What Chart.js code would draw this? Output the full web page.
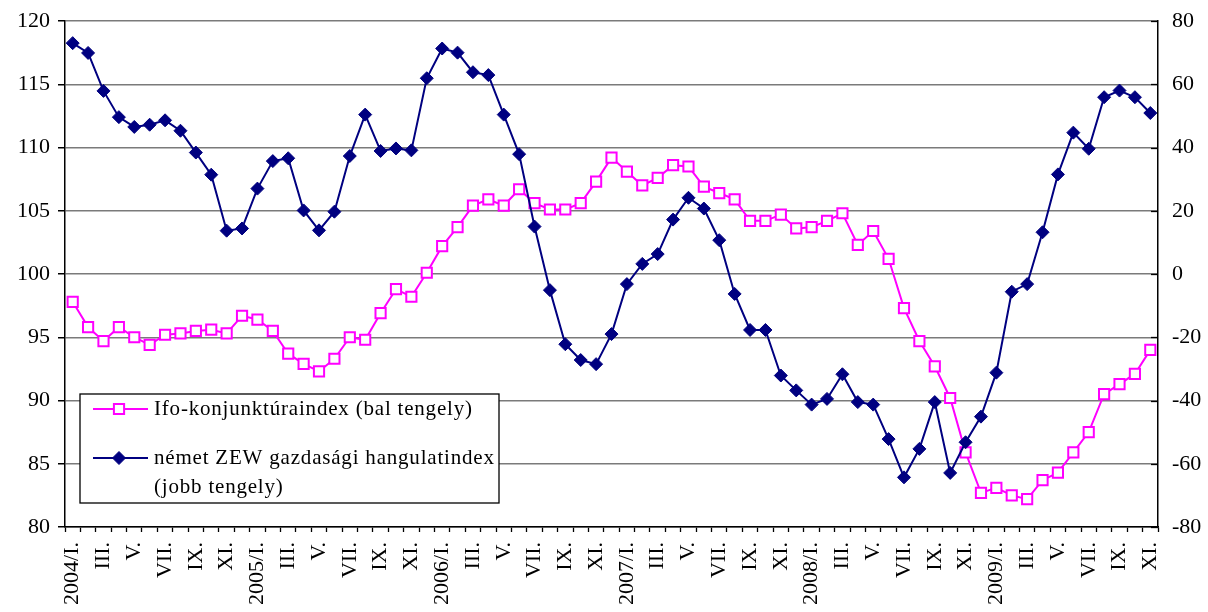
<!DOCTYPE html>
<html>
<head>
<meta charset="utf-8">
<script src="https://cdn.jsdelivr.net/npm/chart.js@4"></script>
<style>
html, body { margin: 0; padding: 0; background: #fff; }
#wrap { width: 1208px; height: 612px; }
</style>
</head>
<body>
<div id="wrap"><canvas id="lineChart"></canvas></div>
<script>
const years = ['2004', '2005', '2006', '2007', '2008', '2009'];
const months = ['I.', 'II.', 'III.', 'IV.', 'V.', 'VI.', 'VII.', 'VIII.', 'IX.', 'X.', 'XI.', 'XII.'];

// monthly categories, 2004/I. .. 2009/XI.
const labelLine = [];
years.forEach(y => months.forEach((m, i) => labelLine.push(i === 0 ? y + '/' + m : m)));
labelLine.splice(71);

// Ifo business climate (left axis)
const dataIfo = [
    97.8, 95.8, 94.7, 95.8, 95.0, 94.4, 95.2, 95.3, 95.5, 95.6, 95.3, 96.7,
    96.4, 95.5, 93.7, 92.9, 92.3, 93.3, 95.0, 94.8, 96.9, 98.8, 98.2, 100.1,
    102.2, 103.7, 105.4, 105.9, 105.4, 106.7, 105.6, 105.1, 105.1, 105.6, 107.3, 109.2,
    108.1, 107.0, 107.6, 108.6, 108.5, 106.9, 106.4, 105.9, 104.2, 104.2, 104.7, 103.6,
    103.7, 104.2, 104.8, 102.3, 103.4, 101.2, 97.3, 94.7, 92.7, 90.2, 85.9, 82.7,
    83.1, 82.5, 82.2, 83.7, 84.3, 85.9, 87.5, 90.5, 91.3, 92.1, 94.0
];

// ZEW economic sentiment (right axis)
const dataZew = [
    73.0, 69.9, 57.9, 49.6, 46.5, 47.2, 48.6, 45.3, 38.4, 31.4, 13.7, 14.4,
    27.0, 35.7, 36.6, 20.1, 13.8, 19.7, 37.3, 50.4, 38.9, 39.7, 39.1, 61.9,
    71.3, 70.0, 63.8, 62.9, 50.4, 37.9, 15.0, -5.1, -22.2, -27.2, -28.5, -19.0,
    -3.2, 3.2, 6.3, 17.2, 24.1, 20.7, 10.7, -6.3, -17.7, -17.7, -32.1, -36.8,
    -41.3, -39.5, -31.7, -40.5, -41.3, -52.2, -64.3, -55.3, -40.5, -62.9, -53.2, -45.1,
    -31.2, -5.6, -3.2, 13.2, 31.5, 44.7, 39.6, 55.9, 58.0, 55.9, 50.9
];

const legendLines = [
    ['Ifo-konjunktúraindex (bal tengely)'],
    ['német ZEW gazdasági hangulatindex', '(jobb tengely)']
];

const serif = 'Liberation Serif';

function marker(ctx, ds, x, y) {
    ctx.save();
    ctx.lineWidth = ds.pointBorderWidth;
    ctx.strokeStyle = ds.pointBorderColor;
    ctx.fillStyle = ds.pointBackgroundColor;
    ctx.beginPath();
    if (ds.pointStyle === 'rect') {
        const s = ds.pointRadius * Math.SQRT1_2;
        ctx.rect(x - s, y - s, 2 * s, 2 * s);
    } else {
        const r = ds.pointRadius;
        ctx.moveTo(x, y - r); ctx.lineTo(x + r, y); ctx.lineTo(x, y + r); ctx.lineTo(x - r, y);
        ctx.closePath();
    }
    ctx.fill();
    ctx.stroke();
    ctx.restore();
}

const boxLegend = {
    id: 'boxLegend',
    afterDraw(chart) {
        const ctx = chart.ctx;
        const left = 80, top = 394, width = 419, height = 109;
        ctx.save();
        ctx.fillStyle = '#fff';
        ctx.fillRect(left, top, width, height);
        ctx.strokeStyle = '#000';
        ctx.lineWidth = 1.3;
        ctx.strokeRect(left, top, width, height);
        ctx.font = '21px "' + serif + '"';
        ctx.fillStyle = '#000';
        ctx.textBaseline = 'middle';
        ctx.letterSpacing = '0.8px';
        const rows = [409, 458];
        chart.data.datasets.forEach((ds, i) => {
            const y = rows[i];
            ctx.strokeStyle = ds.borderColor;
            ctx.lineWidth = ds.borderWidth;
            ctx.beginPath();
            ctx.moveTo(93, y);
            ctx.lineTo(148, y);
            ctx.stroke();
            marker(ctx, ds, 119, y);
            legendLines[i].forEach((t, k) => ctx.fillText(t, 154, y + k * 29));
        });
        // inward ticks on the right axis
        const r = chart.scales.y1;
        ctx.strokeStyle = '#000';
        ctx.lineWidth = 1.3;
        r.ticks.forEach(t => {
            const py = Math.round(r.getPixelForValue(t.value)) + 0.5;
            ctx.beginPath();
            ctx.moveTo(r.left, py);
            ctx.lineTo(r.left - 7, py);
            ctx.stroke();
        });
        ctx.restore();
    }
};

function fixVertical(width) {
    return s => {
        s.width = width;
        s.paddingTop = 0;
        s.paddingBottom = 0;
    };
}

const graph = new Chart(document.getElementById('lineChart'), {
    type: 'line',
    data: {
        labels: labelLine,
        datasets: [{
            data: dataIfo,
            label: legendLines[0].join(' '),
            yAxisID: 'y',
            order: 2,
            borderColor: '#FF00FF',
            borderWidth: 2,
            pointStyle: 'rect',
            pointRadius: 7.2,
            pointBorderWidth: 2,
            pointBorderColor: '#FF00FF',
            pointBackgroundColor: '#FFFFFF',
            tension: 0
        },
        {
            data: dataZew,
            label: legendLines[1].join(' '),
            yAxisID: 'y1',
            order: 1,
            borderColor: '#000080',
            borderWidth: 2,
            pointStyle: 'rectRot',
            pointRadius: 6.5,
            pointBorderWidth: 1,
            pointBorderColor: '#000080',
            pointBackgroundColor: '#000080',
            tension: 0
        }]
    },
    options: {
        responsive: true,
        maintainAspectRatio: false,
        animation: false,
        layout: { padding: { top: 21, left: 0, right: 0, bottom: 0 } },
        plugins: {
            legend: { display: false },
            tooltip: { enabled: false }
        },
        scales: {
            x: {
                type: 'category',
                offset: true,
                afterFit: s => { s.height = 85; s.paddingLeft = 0; s.paddingRight = 0; },
                grid: { offset: true, drawOnChartArea: false, drawTicks: true, tickLength: 5, tickColor: '#000', tickWidth: 1.3 },
                border: { color: '#000', width: 1.5 },
                ticks: {
                    autoSkip: false,
                    minRotation: 90,
                    maxRotation: 90,
                    padding: 10,
                    color: '#000',
                    font: { family: serif, size: 22 },
                    callback: (v, i) => (i % 2 === 0 ? labelLine[i] : '')
                }
            },
            y: {
                position: 'left',
                min: 80,
                max: 120,
                afterFit: fixVertical(65),
                grid: { color: '#7a7a7a', lineWidth: 1.5, tickColor: '#000', tickLength: 7 },
                border: { color: '#000', width: 1.5 },
                ticks: { stepSize: 5, padding: 8, color: '#000', font: { family: serif, size: 22 } }
            },
            y1: {
                position: 'right',
                min: -80,
                max: 80,
                afterFit: fixVertical(50),
                grid: { drawOnChartArea: false, drawTicks: false },
                border: { color: '#000', width: 1.5 },
                ticks: { stepSize: 20, padding: 14, color: '#000', font: { family: serif, size: 22 } }
            }
        }
    },
    plugins: [boxLegend]
});
</script>
</body>
</html>
